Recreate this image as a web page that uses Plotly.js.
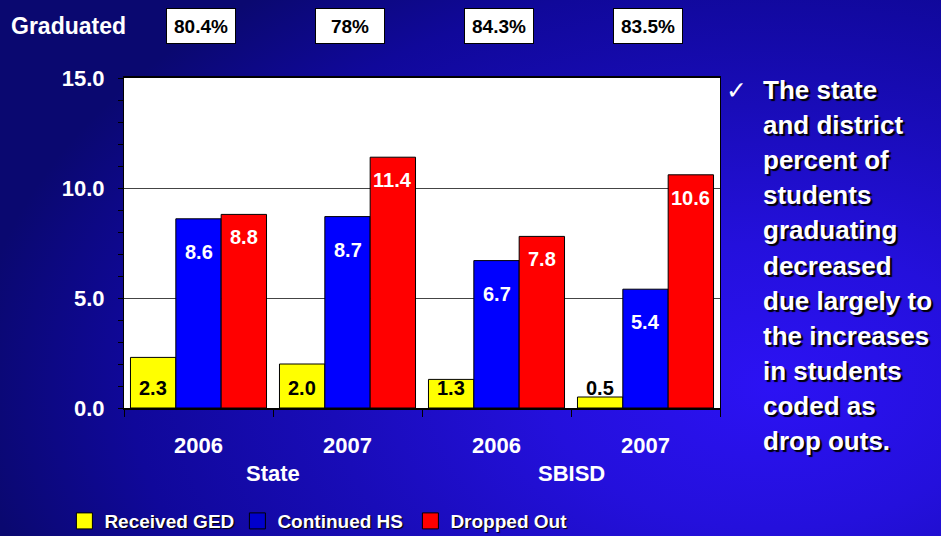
<!DOCTYPE html>
<html>
<head>
<meta charset="utf-8">
<script src="https://cdn.plot.ly/plotly-3.0.1.min.js"></script>
<style>
  html, body { margin: 0; padding: 0; width: 941px; height: 536px; overflow: hidden; }
  body {
    background:
      radial-gradient(ellipse 85% 95% at 82% 72%, #2c12f4 0%, #2410dc 28%, #190cb8 55%, #10089a 80%, #0a0870 100%);
  }
  #chart { width: 941px; height: 536px; }
</style>
</head>
<body>
<div id="chart"></div>
<script>
// --- data ---
const groups = ['State', 'State', 'SBISD', 'SBISD'];
const years = ['2006', '2007', '2006', '2007'];
const gradRates = ['80.4%', '78%', '84.3%', '83.5%'];

const seriesNames = ['Received GED', 'Continued HS', 'Dropped Out'];
const receivedGED = [2.3, 2.0, 1.3, 0.5];
const continuedHS = [8.6, 8.7, 6.7, 5.4];
const droppedOut = [8.8, 11.4, 7.8, 10.6];

const yTicks = [0, 5, 10, 15];

const noteLines = [
    'The state', 'and district', 'percent of', 'students', 'graduating',
    'decreased', 'due largely to', 'the increases', 'in students',
    'coded as', 'drop outs.'
];

// --- styling ---
const FONT = 'Liberation Sans, Arial, sans-serif';
const barColors = ['#ffff00', '#0000ff', '#ff0000'];
const swatchColors = ['#ffff00', '#0000cc', '#ff0000'];
const labelColors = ['#000000', '#ffffff', '#ffffff'];
const BARGAP = 0.087;

const cats = groups.map((g, i) => g + ' ' + years[i]);
const allSeries = [receivedGED, continuedHS, droppedOut];

const traces = [];
allSeries.forEach((vals, s) => {
    traces.push({
        type: 'bar',
        x: cats,
        y: vals,
        name: seriesNames[s],
        marker: { color: barColors[s], line: { color: '#000', width: 1 } },
        showlegend: false,
        hoverinfo: 'skip'
    });
});
// legend-only entries so the swatches can be bigger than bar swatches
allSeries.forEach((vals, s) => {
    traces.push({
        type: 'scatter',
        mode: 'markers',
        x: [null],
        y: [null],
        name: seriesNames[s],
        marker: { symbol: 'square', size: 20, color: swatchColors[s], line: { color: '#000', width: 1 } }
    });
});

// --- annotations ---
const annotations = [];
const barW = (1 - BARGAP) / 3;
allSeries.forEach((vals, s) => {
    vals.forEach((v, i) => {
        const a = {
            x: i + (s - 1) * barW,
            xref: 'x',
            text: v.toFixed(1),
            showarrow: false,
            font: { family: FONT, size: 20, weight: 700, color: labelColors[s] }
        };
        if (s === 0) {
            // GED labels sit at the bottom of the plot
            a.y = 0; a.yref = 'y'; a.yanchor = 'bottom'; a.yshift = 7;
        } else {
            a.y = v; a.yref = 'y'; a.yanchor = 'middle';
            a.yshift = s === 1 ? -33 : -23;
        }
        annotations.push(a);
    });
});

// group names under the year labels
[...new Set(groups)].forEach(g => {
    const idx = groups.map((gg, i) => gg === g ? i : -1).filter(i => i >= 0);
    annotations.push({
        x: (idx[0] + idx[idx.length - 1]) / 2,
        xref: 'x',
        y: 0, yref: 'paper', yanchor: 'middle', yshift: -65,
        text: g, showarrow: false,
        font: { family: FONT, size: 22, weight: 700, color: '#fff' }
    });
});

// graduated row
annotations.push({
    x: 0, xref: 'paper', xanchor: 'right', xshift: 4,
    y: 1, yref: 'paper', yanchor: 'middle', yshift: 52,
    text: 'Graduated', showarrow: false,
    font: { family: FONT, size: 23, weight: 700, color: '#fff' }
});
gradRates.forEach((r, i) => {
    annotations.push({
        x: i, xref: 'x', xshift: 2,
        y: 1, yref: 'paper', yanchor: 'middle', yshift: 52,
        text: r, showarrow: false,
        width: 62, height: 28,
        bgcolor: '#fff', bordercolor: '#000', borderwidth: 1, borderpad: 3,
        font: { family: FONT, size: 19, weight: 700, color: '#000' }
    });
});

// side note
annotations.push({
    x: 1, xref: 'paper', xanchor: 'left', xshift: 4,
    y: 1, yref: 'paper', yanchor: 'middle', yshift: -12,
    text: '\u2713', showarrow: false,
    font: { family: 'DejaVu Sans, sans-serif', size: 25, color: '#fff' }
});
noteLines.forEach((line, i) => {
    annotations.push({
        x: 1, xref: 'paper', xanchor: 'left', xshift: 41,
        y: 1, yref: 'paper', yanchor: 'middle', yshift: -12 - i * 35.1,
        text: line, showarrow: false, align: 'left',
        font: { family: FONT, size: 26, weight: 700, color: '#fff', shadow: '2px 2px 1px #000' }
    });
});

const layout = {
    width: 941,
    height: 536,
    margin: { l: 124, r: 221, t: 78, b: 128, autoexpand: false },
    paper_bgcolor: 'rgba(0,0,0,0)',
    plot_bgcolor: '#ffffff',
    barmode: 'group',
    bargap: BARGAP,
    bargroupgap: 0,
    font: { family: FONT, color: '#fff' },
    xaxis: {
        type: 'category',
        tickvals: cats,
        ticktext: years,
        tickson: 'boundaries',
        ticks: 'outside',
        ticklen: 7,
        tickcolor: '#000',
        tickwidth: 1,
        ticklabelstandoff: 17,
        tickfont: { family: FONT, size: 22, weight: 700, color: '#fff' },
        showline: true,
        linecolor: '#000',
        linewidth: 2,
        mirror: true,
        showgrid: false,
        fixedrange: true
    },
    yaxis: {
        range: [0, 15],
        tickvals: yTicks,
        tickformat: '.1f',
        ticks: 'outside',
        ticklen: 5,
        tickcolor: '#000',
        ticklabelstandoff: 9,
        tickfont: { family: FONT, size: 22, weight: 700, color: '#fff' },
        minor: { dtick: 1, ticks: 'outside', ticklen: 5, tickcolor: '#000', showgrid: false },
        showgrid: true,
        gridcolor: '#444',
        gridwidth: 1,
        zeroline: false,
        showline: true,
        linecolor: '#000',
        linewidth: 1,
        mirror: true,
        fixedrange: true
    },
    showlegend: true,
    legend: {
        orientation: 'h',
        x: -0.1, xanchor: 'left',
        y: -0.285, yanchor: 'top',
        entrywidth: 128,
        entrywidthmode: 'pixels',
        bgcolor: 'rgba(0,0,0,0)',
        font: { family: FONT, size: 19, weight: 700, color: '#fff', shadow: '1px 1px 1px #000' },
        itemclick: false,
        itemdoubleclick: false
    },
    annotations: annotations
};

Plotly.newPlot('chart', traces, layout, { displayModeBar: false, staticPlot: true });
</script>
</body>
</html>
